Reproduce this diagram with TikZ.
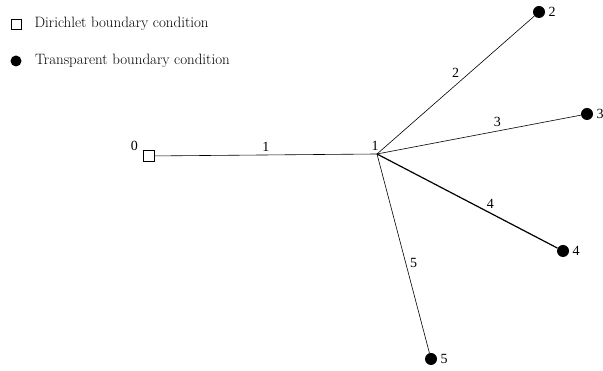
\documentclass[tikz,border=0pt]{standalone}
\usepackage{fontspec}
\newfontfamily\numfont{Liberation Serif}
\usepackage{tikz}
\usetikzlibrary{positioning}

\begin{document}
\begin{tikzpicture}[x=1pt, y=1pt, line width=0.6pt,
  dirbox/.style={draw, fill=white, minimum size=11pt, inner sep=0pt},
  tbcdot/.style={circle, fill=black, minimum size=12pt, inner sep=0pt},
  legtext/.style={font=\fontsize{15}{17}\selectfont, anchor=west, inner sep=0pt},
  num/.style={font=\numfont\fontsize{14}{16}\selectfont, inner sep=1pt},
  edge/.style={draw=black, line width=0.6pt}]
\useasboundingbox (0,0) rectangle (603,371);
% ---- legend
\node[dirbox, minimum size=10pt] (legD) at (16,347) {};
\node[legtext, right=13pt of legD] {Dirichlet boundary condition};
\node[tbcdot, minimum size=11pt] (legT) at (16,310) {};
\node[legtext, right=13pt of legT] {Transparent boundary condition};
% ---- the graph
\node[dirbox] (v0) at (149,215) {};
\coordinate (v1) at (377,217);
\node[tbcdot] (v2) at (539,359) {};
\node[tbcdot] (v3) at (587,257) {};
\node[tbcdot] (v4) at (563,120) {};
\node[tbcdot] (v5) at (431,12) {};
% vertex numbers
\node[num, left=4pt of v0.north west, yshift=4pt] {0};
\node[num] at (375,225) {1};
\node[num, right=2pt of v2] {2};
\node[num, right=2pt of v3] {3};
\node[num, right=2pt of v4] {4};
\node[num, right=2pt of v5] {5};
% edges with their numbers
\draw[edge] (v0) -- node[num, midway, above=2pt] {1} (v1);
\draw[edge] (v1) -- node[num, pos=0.5, above=6pt] {2} (v2);
\draw[edge] (v1) -- node[num, pos=0.59, above=3pt] {3} (v3);
\draw[edge, line width=1.2pt] (v1) -- node[num, pos=0.6, above right=0pt and 0pt] {4} (v4);
\draw[edge] (v1) -- node[num, pos=0.55, right=3pt] {5} (v5);
\end{tikzpicture}
\end{document}
